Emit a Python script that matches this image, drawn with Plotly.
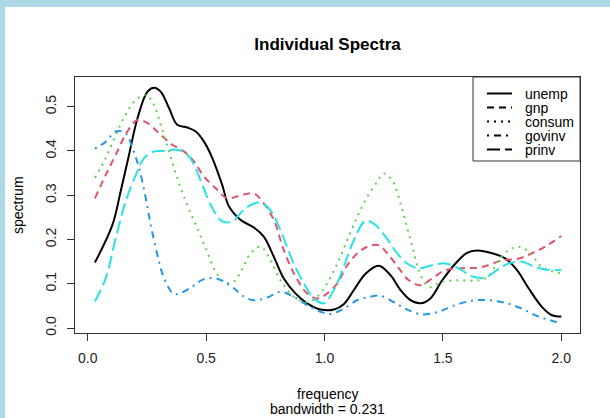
import plotly.graph_objects as go

# Smoothed periodogram estimates for the five econ series
unemp_freq = [0.030, 0.104, 0.139, 0.174, 0.210, 0.252, 0.280, 0.308, 0.343, 0.378,
              0.421, 0.456, 0.491, 0.526, 0.568, 0.596, 0.646, 0.702, 0.744, 0.786,
              0.828, 0.878, 0.927, 0.983, 1.040, 1.081, 1.124, 1.173, 1.229, 1.278,
              1.321, 1.363, 1.405, 1.447, 1.497, 1.553, 1.602, 1.644, 1.707, 1.764,
              1.813, 1.862, 1.918, 1.961, 2.000]
unemp_spec = [0.148, 0.233, 0.309, 0.391, 0.474, 0.534, 0.543, 0.534, 0.497, 0.459,
              0.453, 0.444, 0.421, 0.384, 0.323, 0.275, 0.244, 0.227, 0.206, 0.161,
              0.112, 0.078, 0.056, 0.042, 0.042, 0.054, 0.086, 0.123, 0.141, 0.120,
              0.086, 0.063, 0.056, 0.067, 0.108, 0.146, 0.170, 0.175, 0.169, 0.157,
              0.131, 0.090, 0.048, 0.029, 0.026]

gnp_freq = [0.030, 0.076, 0.125, 0.167, 0.210, 0.252, 0.301, 0.357, 0.406, 0.449,
            0.491, 0.540, 0.589, 0.646, 0.702, 0.744, 0.786, 0.828, 0.878, 0.927,
            0.969, 1.011, 1.054, 1.096, 1.145, 1.187, 1.229, 1.271, 1.314, 1.356,
            1.405, 1.454, 1.511, 1.581, 1.665, 1.750, 1.820, 1.876, 1.932, 2.000]
gnp_spec = [0.293, 0.346, 0.399, 0.444, 0.470, 0.463, 0.440, 0.414, 0.399, 0.376,
            0.342, 0.316, 0.293, 0.300, 0.304, 0.281, 0.244, 0.176, 0.116, 0.078,
            0.067, 0.078, 0.101, 0.142, 0.172, 0.185, 0.187, 0.165, 0.135, 0.108,
            0.097, 0.112, 0.131, 0.135, 0.138, 0.153, 0.157, 0.169, 0.184, 0.208]

consum_freq = [0.030, 0.076, 0.118, 0.160, 0.203, 0.245, 0.280, 0.308, 0.343, 0.378,
               0.414, 0.456, 0.498, 0.540, 0.582, 0.617, 0.650, 0.688, 0.730, 0.772,
               0.814, 0.870, 0.927, 0.969, 1.011, 1.054, 1.096, 1.138, 1.180, 1.222,
               1.250, 1.286, 1.321, 1.350, 1.375, 1.398, 1.440, 1.497, 1.567, 1.651,
               1.693, 1.735, 1.778, 1.820, 1.869, 1.918, 2.000]
consum_spec = [0.339, 0.384, 0.436, 0.482, 0.515, 0.527, 0.504, 0.459, 0.399, 0.339,
               0.286, 0.233, 0.181, 0.128, 0.102, 0.105, 0.132, 0.169, 0.184, 0.153,
               0.108, 0.071, 0.059, 0.071, 0.101, 0.146, 0.199, 0.251, 0.296, 0.330,
               0.349, 0.334, 0.281, 0.225, 0.175, 0.131, 0.093, 0.105, 0.108, 0.108,
               0.117, 0.153, 0.176, 0.184, 0.169, 0.138, 0.124]

govinv_freq = [0.030, 0.076, 0.118, 0.160, 0.189, 0.217, 0.245, 0.266, 0.294, 0.322,
               0.364, 0.400, 0.442, 0.484, 0.533, 0.575, 0.617, 0.660, 0.702, 0.758,
               0.814, 0.870, 0.927, 0.983, 1.025, 1.081, 1.138, 1.194, 1.236, 1.292,
               1.349, 1.412, 1.482, 1.553, 1.623, 1.693, 1.764, 1.834, 1.904, 2.000]
govinv_spec = [0.405, 0.421, 0.444, 0.440, 0.406, 0.361, 0.293, 0.233, 0.165, 0.113,
               0.077, 0.081, 0.094, 0.109, 0.113, 0.105, 0.090, 0.071, 0.063, 0.069,
               0.082, 0.071, 0.052, 0.037, 0.032, 0.044, 0.063, 0.071, 0.073, 0.059,
               0.042, 0.031, 0.037, 0.052, 0.062, 0.063, 0.057, 0.044, 0.026, 0.011]

prinv_freq = [0.030, 0.076, 0.118, 0.160, 0.203, 0.238, 0.280, 0.329, 0.371, 0.414,
              0.449, 0.484, 0.526, 0.568, 0.611, 0.650, 0.688, 0.730, 0.772, 0.814,
              0.864, 0.913, 0.955, 0.997, 1.039, 1.081, 1.124, 1.173, 1.215, 1.264,
              1.307, 1.349, 1.398, 1.454, 1.511, 1.567, 1.623, 1.679, 1.728, 1.778,
              1.834, 1.890, 1.947, 2.000]
prinv_spec = [0.060, 0.113, 0.203, 0.286, 0.346, 0.384, 0.399, 0.400, 0.403, 0.395,
              0.369, 0.323, 0.271, 0.241, 0.241, 0.262, 0.278, 0.283, 0.266, 0.221,
              0.153, 0.101, 0.067, 0.056, 0.086, 0.138, 0.199, 0.242, 0.233, 0.202,
              0.169, 0.146, 0.135, 0.142, 0.146, 0.135, 0.117, 0.114, 0.131, 0.146,
              0.150, 0.138, 0.131, 0.132]

series_names = ["unemp", "gnp", "consum", "govinv", "prinv"]
series_colors = ["#000000", "#DF536B", "#61D04F", "#2297E6", "#28E2E5"]
series_dashes = ["solid", "7px,5px", "2px,5px", "2px,5px,7px,5px", "13px,5px"]

x_ticks = [0.0, 0.5, 1.0, 1.5, 2.0]
y_ticks = [0.0, 0.1, 0.2, 0.3, 0.4, 0.5]

FONT = "Liberation Sans, Arial, sans-serif"
BASE = 14
W, H = 610, 418
ML, MR, MT, MB = 75, 30, 77, 85
PW, PH = W - ML - MR, H - MT - MB


def px_x(px):
    return (px - ML) / PW


def px_y(py):
    return (H - MB - py) / PH


fig = go.Figure()
all_freq = [unemp_freq, gnp_freq, consum_freq, govinv_freq, prinv_freq]
all_spec = [unemp_spec, gnp_spec, consum_spec, govinv_spec, prinv_spec]
for name, fx, sy, col, dash in zip(series_names, all_freq, all_spec,
                                   series_colors, series_dashes):
    fig.add_trace(go.Scatter(
        x=fx, y=sy, mode="lines", name=name, showlegend=False,
        line=dict(color=col, width=2, dash=dash, shape="spline", smoothing=1.0),
    ))

shapes = []
# light-blue frame strips along the top and left edges
shapes.append(dict(type="rect", xref="paper", yref="paper",
                   x0=px_x(-2), x1=px_x(W + 2), y0=px_y(7), y1=px_y(-2),
                   fillcolor="#ADD8E6", line=dict(width=0)))
shapes.append(dict(type="rect", xref="paper", yref="paper",
                   x0=px_x(-2), x1=px_x(5), y0=px_y(H + 2), y1=px_y(-2),
                   fillcolor="#ADD8E6", line=dict(width=0)))

# legend box with black line samples
shapes.append(dict(type="rect", xref="paper", yref="paper",
                   x0=px_x(473), x1=1.0, y0=px_y(161), y1=1.0,
                   fillcolor="white", line=dict(color="#333333", width=1)))
annotations = []
row_y = [93.5, 107.5, 121.5, 135.5, 149.5]
for name, dash, ry in zip(series_names, series_dashes, row_y):
    shapes.append(dict(type="line", xref="paper", yref="paper",
                       x0=px_x(487), x1=px_x(512), y0=px_y(ry), y1=px_y(ry),
                       line=dict(color="black", width=2, dash=dash)))
    annotations.append(dict(text=name, xref="paper", yref="paper",
                            x=px_x(523), y=px_y(ry), xanchor="left", yanchor="middle",
                            showarrow=False,
                            font=dict(family=FONT, size=BASE, color="black")))

annotations.append(dict(text="spectrum", xref="paper", yref="paper",
                        x=px_x(18), y=0.5, textangle=-90, showarrow=False,
                        xanchor="center", yanchor="middle",
                        font=dict(family=FONT, size=BASE, color="black")))
annotations.append(dict(text="frequency", xref="paper", yref="paper",
                        x=0.5, y=px_y(394), showarrow=False,
                        xanchor="center", yanchor="middle",
                        font=dict(family=FONT, size=BASE, color="black")))
annotations.append(dict(text="bandwidth = 0.231", xref="paper", yref="paper",
                        x=0.5, y=px_y(409), showarrow=False,
                        xanchor="center", yanchor="middle",
                        font=dict(family=FONT, size=BASE, color="black")))

axis_common = dict(showgrid=False, zeroline=False, showline=True, mirror=True,
                   linecolor="#333333", linewidth=1, ticks="outside", ticklen=7,
                   tickcolor="#333333", tickwidth=1, tickformat=".1f",
                   tickfont=dict(family=FONT, size=BASE, color="#222222"))

fig.update_layout(
    width=W, height=H,
    margin=dict(l=ML, r=MR, t=MT, b=MB, pad=0),
    paper_bgcolor="white", plot_bgcolor="white",
    title=dict(text="<b>Individual Spectra</b>", x=0.5, xref="paper",
               y=1 - 44 / H, yref="container", xanchor="center", yanchor="middle",
               font=dict(family=FONT, size=17, color="black")),
    xaxis=dict(range=[-0.054, 2.079], tickvals=x_ticks, ticklabelstandoff=5,
               **axis_common),
    yaxis=dict(range=[-0.011, 0.567], tickvals=y_ticks, tickangle=-90,
               ticklabelstandoff=5, **axis_common),
    shapes=shapes, annotations=annotations, showlegend=False,
)

fig.write_html("out.html")
